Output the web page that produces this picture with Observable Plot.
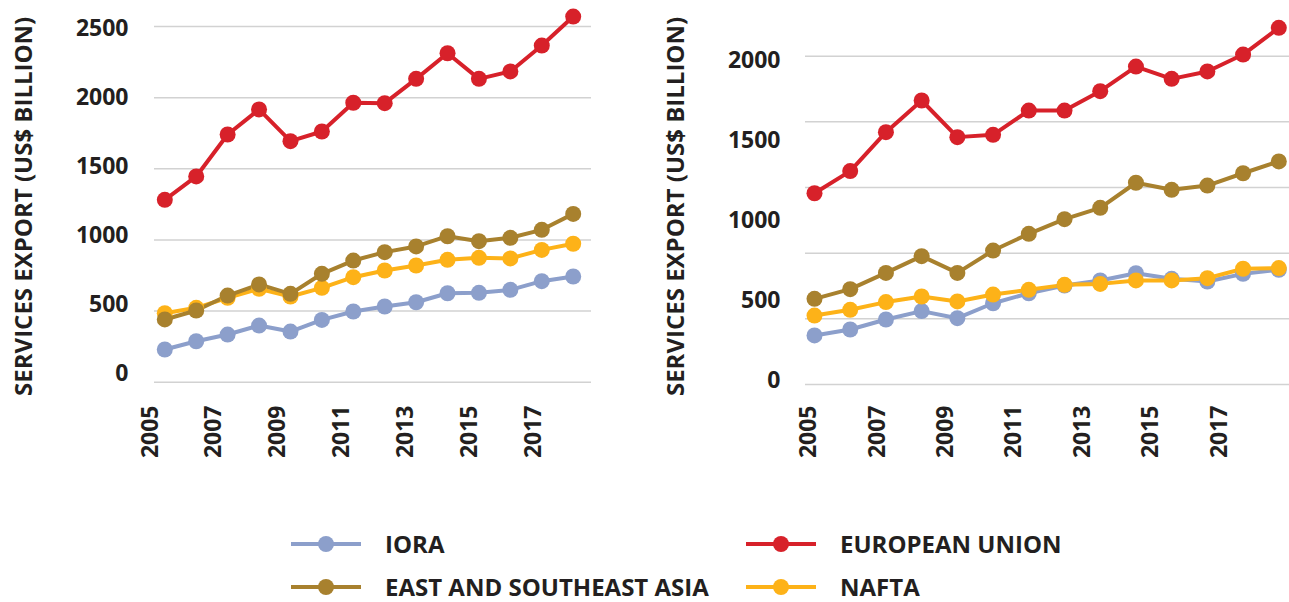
<!DOCTYPE html>
<html>
<head>
<meta charset="utf-8">
<script src="https://cdn.jsdelivr.net/npm/d3@7"></script>
<script src="https://cdn.jsdelivr.net/npm/@observablehq/plot@0.6"></script>
<style>
  html, body { margin: 0; padding: 0; background: #fff; }
  body { font-family: "Open Sans", sans-serif; color: #231f20; }
  #wrap { position: relative; width: 1289px; height: 602px; }
  .panel { position: absolute; top: 0; height: 470px; }
  .panel svg { position: absolute; left: 0; top: 0; overflow: visible; background: transparent; }
  #legend { position: absolute; left: 291px; top: 531px; display: grid;
            grid-template-columns: 455px auto; grid-auto-rows: 43px; }
  .item { display: flex; align-items: center; height: 26px; }
  .item span { margin-left: 24px; font-size: 24px; font-weight: 700; line-height: 26px; white-space: nowrap; color: #231f20; }
</style>
</head>
<body>
<div id="wrap">
  <div class="panel" id="p1" style="left:0;width:645px"></div>
  <div class="panel" id="p2" style="left:645px;width:644px"></div>
  <div id="legend"></div>
</div>
<script>
// ---------- data ----------
const years = [2005, 2006, 2007, 2008, 2009, 2010, 2011, 2012, 2013, 2014, 2015, 2016, 2017, 2018];
const seriesNames = ["IORA", "EUROPEAN UNION", "EAST AND SOUTHEAST ASIA", "NAFTA"];
const seriesColors = ["#8c9fcb", "#d7212a", "#a8812e", "#fdb218"];
const drawOrder = ["IORA", "EUROPEAN UNION", "NAFTA", "EAST AND SOUTHEAST ASIA"];
const yTitle = "SERVICES EXPORT (US$ BILLION)";

// left panel
const ioraLeft  = [230, 288, 335, 398, 356, 438, 497, 532, 562, 625, 628, 649, 710, 743];
const euLeft    = [1282, 1446, 1741, 1917, 1694, 1762, 1964, 1961, 2132, 2312, 2132, 2184, 2366, 2570];
const esaLeft   = [441, 504, 609, 687, 621, 762, 855, 914, 954, 1026, 991, 1015, 1071, 1183];
const naftaLeft = [485, 523, 593, 656, 602, 663, 738, 785, 820, 860, 874, 870, 930, 973];

// right panel
const ioraRight  = [299, 335, 396, 447, 404, 495, 556, 603, 634, 678, 644, 627, 674, 699];
const euRight    = [1165, 1300, 1537, 1730, 1507, 1521, 1669, 1669, 1787, 1937, 1862, 1907, 2010, 2173];
const esaRight   = [522, 581, 680, 782, 680, 816, 918, 1007, 1076, 1229, 1186, 1212, 1287, 1359];
const naftaRight = [420, 455, 502, 536, 506, 548, 577, 607, 613, 634, 634, 648, 705, 709];

// ticks
const xTickLabels = [2005, 2007, 2009, 2011, 2013, 2015, 2017];
const yTicksLeft = [0, 500, 1000, 1500, 2000, 2500];
const yGridLeft = [0, 500, 1000, 1500, 2000, 2500];
const yTicksRight = [0, 500, 1000, 1500, 2000];
const yGridRight = [0, 400, 800, 1200, 1600, 2000];

// ---------- helpers ----------
function toRows(map) {
  return drawOrder.flatMap(name => years.map((yr, i) => ({year: yr, value: map[name][i], series: name})));
}
const leftRows = toRows({"IORA": ioraLeft, "EUROPEAN UNION": euLeft, "EAST AND SOUTHEAST ASIA": esaLeft, "NAFTA": naftaLeft});
const rightRows = toRows({"IORA": ioraRight, "EUROPEAN UNION": euRight, "EAST AND SOUTHEAST ASIA": esaRight, "NAFTA": naftaRight});

const textColor = "#231f20";
const fontFamily = "'Open Sans', sans-serif";

function chart(rows, grid, cfg) {
  return Plot.plot({
    width: cfg.width, height: 470,
    marginLeft: cfg.frameLeft, marginRight: cfg.width - cfg.frameRight,
    marginTop: 0, marginBottom: 470 - cfg.yRange[0],
    style: {background: "transparent", fontFamily},
    x: {type: "linear", domain: [2005, 2018], range: cfg.xRange, axis: null},
    y: {domain: cfg.yDomain, range: cfg.yRange, axis: null},
    color: {domain: seriesNames, range: seriesColors},
    marks: [
      Plot.ruleY(grid, {stroke: "#d2d2d2", strokeWidth: 1.5}),
      Plot.line(rows, {x: "year", y: "value", z: "series", stroke: "series", strokeWidth: 4, curve: "linear"}),
      Plot.dot(rows, {x: "year", y: "value", fill: "series", r: 8})
    ]
  });
}

function labels(yTicks, cfg) {
  return Plot.plot({
    width: cfg.width, height: 470,
    marginLeft: cfg.frameLeft, marginRight: cfg.width - cfg.frameRight,
    marginTop: 0, marginBottom: 470 - cfg.frameBottom,
    style: {background: "transparent", fontFamily},
    x: {type: "linear", domain: [2005, 2017], range: cfg.labelX, axis: null},
    y: {domain: [0, yTicks[yTicks.length - 1]], range: cfg.labelY, axis: null},
    marks: [
      Plot.axisY(yTicks, {tickSize: 0, tickPadding: cfg.tickPadding, fontSize: 23, fontWeight: 700, fill: textColor, label: null, tickFormat: d => String(d)}),
      Plot.text(xTickLabels, {x: d => d, frameAnchor: "bottom", dy: cfg.xLabelDy, rotate: -90, textAnchor: "end",
        text: d => String(d), fontSize: 23, fontWeight: 700, fill: textColor}),
      Plot.text([yTitle], {frameAnchor: "left", dx: cfg.titleDx, dy: cfg.titleDy, rotate: -90, textAnchor: "middle",
        fontSize: 24, fontWeight: 700, fill: textColor})
    ]
  });
}

const leftCfg = {width: 645, frameLeft: 154, frameRight: 591, frameBottom: 381.7,
  xRange: [164.3, 572.7], yDomain: [0, 2500], yRange: [381.7, 26],
  labelX: [157, 540], labelY: [373, 28.3], tickPadding: 26, xLabelDy: 23.3, titleDx: -130, titleDy: 15};
const rightCfg = {width: 644, frameLeft: 160, frameRight: 644, frameBottom: 384,
  xRange: [169, 633.3], yDomain: [0, 2000], yRange: [384, 55.7],
  labelX: [170.6, 581], labelY: [380, 60], tickPadding: 25, xLabelDy: 21, titleDx: -129, titleDy: 14};

const p1 = document.getElementById("p1");
p1.append(chart(leftRows, yGridLeft, leftCfg));
p1.append(labels(yTicksLeft, leftCfg));
const p2 = document.getElementById("p2");
p2.append(chart(rightRows, yGridRight, rightCfg));
p2.append(labels(yTicksRight, rightCfg));

// ---------- legend ----------
const legend = document.getElementById("legend");
seriesNames.forEach((name, i) => {
  const item = document.createElement("div");
  item.className = "item";
  const c = seriesColors[i];
  item.innerHTML = `<svg width="70" height="20" viewBox="0 0 70 20"><line x1="0" x2="70" y1="10" y2="10" stroke="${c}" stroke-width="4"/><circle cx="35" cy="10" r="8" fill="${c}"/></svg><span>${name}</span>`;
  legend.append(item);
});
</script>
</body>
</html>
